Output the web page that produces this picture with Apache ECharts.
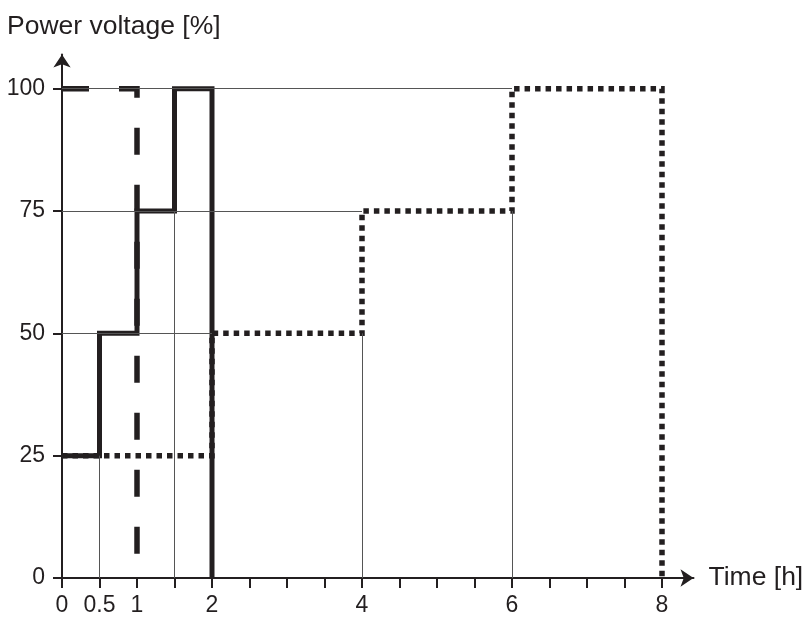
<!DOCTYPE html>
<html>
<head>
<meta charset="utf-8">
<script src="https://cdn.jsdelivr.net/npm/echarts@6/dist/echarts.min.js"></script>
<style>
  html, body { margin: 0; padding: 0; background: #fff; }
  #chart { width: 810px; height: 619px; }
</style>
</head>
<body>
<div id="chart"></div>
<script>
// step profiles, [time h, voltage %]
const solidSteps = [[0, 25], [0.5, 25], [0.5, 50], [1, 50], [1, 75], [1.5, 75], [1.5, 100], [2, 100], [2, 0]]
const dashedSteps = [[0, 100], [1, 100], [1, 0]]
const dottedSteps = [[0, 25], [2, 25], [2, 50], [4, 50], [4, 75], [6, 75], [6, 100], [8, 100], [8, 0]]

// thin guide lines: horizontal [toX, y] from the axis, vertical [x, toY] from 0
const guideH = [[2, 50], [4, 75], [6, 100]]
const guideV = [[0.5, 25], [1.5, 75], [4, 50], [6, 75]]

const xTicks = [0, 0.5, 1, 1.5, 2, 2.5, 3, 3.5, 4, 4.5, 5, 5.5, 6, 6.5, 7, 7.5, 8]
const xLabels = [0, 0.5, 1, 2, 4, 6, 8]
const yTicks = [0, 25, 50, 75, 100]

const ink = '#231f20'
const font = 'Liberation Sans, Arial, sans-serif'

const chart = echarts.init(document.getElementById('chart'))

const guideLines = []
guideH.forEach(([x, y]) => guideLines.push([{ coord: [0, y] }, { coord: [x, y] }]))
guideV.forEach(([x, y]) => guideLines.push([{ coord: [x, 0] }, { coord: [x, y] }]))

const option = {
  animation: false,
  title: {
    text: 'Power voltage [%]',
    left: 2,
    top: 8,
    textStyle: { fontFamily: font, fontSize: 26.5, fontWeight: 'normal', color: ink },
  },
  grid: { left: 62, right: 116.5, top: 54.5, bottom: 41 },
  xAxis: {
    type: 'value',
    min: 0,
    max: 8.42,
    name: 'Time [h]',
    nameLocation: 'end',
    nameGap: 15,
    nameTextStyle: { fontFamily: font, fontSize: 26.5, color: ink, verticalAlign: 'middle' },
    axisLine: { show: true, symbol: ['none', 'arrow'], symbolSize: [13, 13], lineStyle: { color: ink, width: 2 } },
    axisTick: { show: true, customValues: xTicks, length: 10, lineStyle: { color: ink, width: 2 } },
    axisLabel: { customValues: xLabels, margin: 16, fontFamily: font, fontSize: 23, color: ink },
    splitLine: { show: false },
  },
  yAxis: {
    type: 'value',
    min: 0,
    max: 107,
    axisLine: { show: true, symbol: ['none', 'arrow'], symbolSize: [13, 13], lineStyle: { color: ink, width: 2 } },
    axisTick: { show: true, customValues: yTicks, length: 9, lineStyle: { color: ink, width: 2 } },
    axisLabel: { customValues: yTicks, margin: 17, fontFamily: font, fontSize: 23, color: ink },
    splitLine: { show: false },
  },
  series: [
    {
      name: 'guides',
      type: 'line',
      data: [],
      z: 1,
      markLine: {
        silent: true,
        symbol: 'none',
        label: { show: false },
        lineStyle: { color: '#555', width: 1, type: 'solid' },
        data: guideLines,
      },
    },
    {
      name: 'dotted',
      type: 'line',
      data: dottedSteps,
      showSymbol: false,
      z: 2,
      lineStyle: { color: ink, width: 5.5, type: [5.5, 5], cap: 'butt', join: 'miter' },
    },
    {
      name: 'dashed',
      type: 'line',
      data: dashedSteps,
      showSymbol: false,
      z: 3,
      lineStyle: { color: ink, width: 5.5, type: [27, 30], cap: 'butt', join: 'miter' },
    },
    {
      name: 'solid',
      type: 'line',
      data: solidSteps,
      showSymbol: false,
      z: 4,
      lineStyle: { color: ink, width: 5, cap: 'butt', join: 'miter' },
    },
  ],
}
chart.setOption(option)
</script>
</body>
</html>
